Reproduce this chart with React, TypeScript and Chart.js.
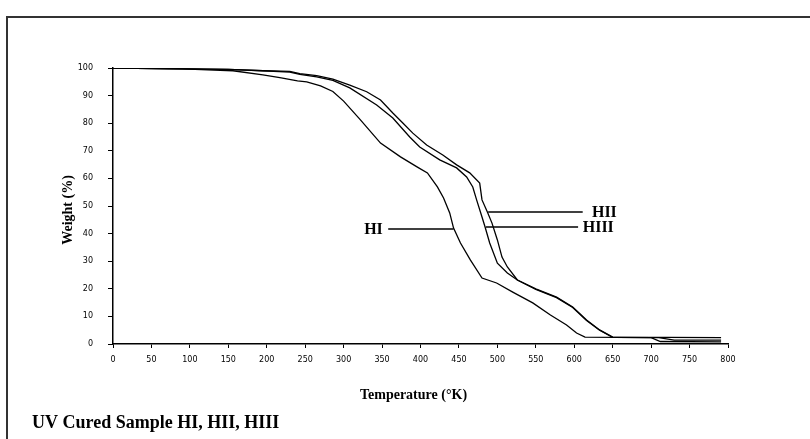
import React, { useEffect, useRef } from 'react';
import { Chart, registerables } from 'chart.js';

Chart.register(...registerables);

// Temperature (°K) and weight (%)
const hiTemp = [0, 90, 156, 195, 217, 240, 252, 270, 286, 300, 321, 348, 374, 396, 409, 422, 430, 438, 443, 452, 465, 480, 499, 520, 546, 569, 590, 603, 614, 700, 712, 791];
const hiWeight = [100, 99.7, 99, 97.5, 96.5, 95.3, 95, 93.5, 91.5, 88, 81.5, 72.8, 67.8, 64.1, 62, 56.9, 52.9, 47.5, 42, 36.6, 30.4, 23.9, 22.1, 18.8, 14.9, 10.5, 6.9, 4, 2.5, 2.3, 0.9, 0.8];

const hiiTemp = [0, 150, 195, 230, 243, 265, 286, 308, 330, 348, 364, 377, 390, 408, 429, 447, 464, 477, 480, 487, 493, 500, 506, 513, 526, 550, 577, 598, 616, 633, 650, 791];
const hiiWeight = [100, 99.5, 99, 98.8, 98, 97.2, 96, 93.8, 91.4, 88.4, 83.7, 80.1, 76.4, 72.1, 68.5, 64.9, 62, 58.3, 52.2, 47.8, 43.8, 37.7, 31.5, 27.9, 23.2, 20, 17, 13.4, 8.7, 5.1, 2.5, 2.3];

const hiiiTemp = [0, 150, 195, 230, 243, 265, 286, 308, 343, 364, 386, 399, 425, 447, 460, 468, 473, 480, 484, 490, 500, 513, 526, 550, 577, 598, 616, 633, 650, 710, 730, 791];
const hiiiWeight = [100, 99.5, 99, 98.5, 97.7, 96.8, 95.5, 92.8, 86.6, 81.9, 75, 71.4, 66.7, 63.8, 60.5, 56.9, 52.2, 46, 42.4, 36.6, 29.3, 25.7, 23.2, 19.8, 16.8, 13.2, 8.5, 5, 2.4, 2.3, 1.4, 1.4];

// Curve labels (leader line from/to in °K, height in %, text anchor in °K)
const annLabels = ['HI', 'HII', 'HIII'];
const annFrom = [358, 488, 485];
const annTo = [443, 611, 605];
const annY = [41.7, 47.8, 42.4];
const annTextX = [351, 623, 611];

const xTitle = 'Temperature (°K)';
const yTitle = 'Weight (%)';
const caption = 'UV Cured Sample HI, HII, HIII';

const toPoints = (xs: number[], ys: number[]) => xs.map((v, i) => ({ x: v, y: ys[i] }));

const overlay = {
  id: 'overlay',
  afterDraw(chart: any) {
    const { ctx, chartArea } = chart;
    const xs = chart.scales.x;
    const ys = chart.scales.y;
    ctx.save();
    ctx.strokeStyle = '#000';
    ctx.fillStyle = '#000';
    ctx.lineWidth = 1.5;
    ctx.font = 'bold 16px "Liberation Serif"';
    ctx.textBaseline = 'middle';
    annLabels.forEach((lab, i) => {
      const py = ys.getPixelForValue(annY[i]);
      ctx.beginPath();
      ctx.moveTo(xs.getPixelForValue(annFrom[i]), py);
      ctx.lineTo(xs.getPixelForValue(annTo[i]), py);
      ctx.stroke();
      ctx.textAlign = annTextX[i] < annFrom[i] ? 'right' : 'left';
      ctx.fillText(lab, xs.getPixelForValue(annTextX[i]), py + 1);
    });

    ctx.font = 'bold 14px "Liberation Serif"';
    ctx.textAlign = 'center';
    ctx.fillText(xTitle, (chartArea.left + chartArea.right) / 2 - 7, 395);
    ctx.save();
    ctx.translate(68, (chartArea.top + chartArea.bottom) / 2 + 4);
    ctx.rotate(-Math.PI / 2);
    ctx.fillText(yTitle, 0, 0);
    ctx.restore();

    ctx.font = 'bold 18px "Liberation Serif"';
    ctx.textAlign = 'left';
    ctx.textBaseline = 'alphabetic';
    ctx.fillText(caption, 32, 428);

    ctx.strokeStyle = '#333';
    ctx.lineWidth = 2;
    ctx.beginPath();
    ctx.moveTo(7, 439);
    ctx.lineTo(7, 17);
    ctx.lineTo(810, 17);
    ctx.stroke();
    ctx.restore();
  },
};

export default function App() {
  const ref = useRef<HTMLCanvasElement | null>(null);
  useEffect(() => {
    if (!ref.current) return;
    const mk = (label: string, xs: number[], ys: number[]) => ({
      label,
      data: toPoints(xs, ys),
      borderColor: '#000',
      backgroundColor: '#000',
      borderWidth: 1.3,
      pointRadius: 0,
      fill: false,
      tension: 0,
    });
    const tickFont = { family: '"DejaVu Sans"', size: 8 };
    const chart = new Chart(ref.current, {
      type: 'line',
      data: {
        datasets: [
          mk('HI', hiTemp, hiWeight),
          mk('HII', hiiTemp, hiiWeight),
          mk('HIII', hiiiTemp, hiiiWeight),
        ],
      },
      options: {
        responsive: false,
        animation: false,
        layout: { padding: { left: 0, right: 82, top: 68, bottom: 0 } },
        plugins: { legend: { display: false }, tooltip: { enabled: false } },
        scales: {
          x: {
            type: 'linear',
            min: 0,
            max: 800,
            ticks: { stepSize: 50, font: tickFont, color: '#000', padding: 7, maxRotation: 0, autoSkip: false },
            grid: { display: true, drawOnChartArea: false, drawTicks: true, tickLength: 4, color: '#000', lineWidth: 1 },
            border: { color: '#000', width: 1.5 },
            afterFit: (s: any) => { s.height = 95; },
          },
          y: {
            type: 'linear',
            min: 0,
            max: 100,
            ticks: { stepSize: 10, font: tickFont, color: '#000', padding: 15 },
            grid: { display: true, drawOnChartArea: false, drawTicks: true, tickLength: 5, color: '#000', lineWidth: 1 },
            border: { color: '#000', width: 1.5 },
            afterFit: (s: any) => { s.width = 113; },
          },
        },
      },
      plugins: [overlay],
    } as any);
    return () => chart.destroy();
  }, []);
  return (
    <div style={{ position: 'fixed', left: 0, top: 0, width: 810, height: 439, background: '#fff' }}>
      <canvas ref={ref} width={810} height={439} />
    </div>
  );
}
